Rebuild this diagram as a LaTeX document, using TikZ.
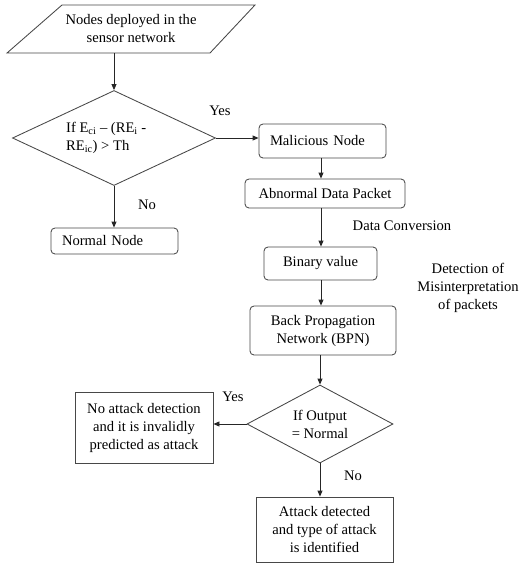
\documentclass[tikz,border=0pt]{standalone}
\usepackage{fontspec}
\setmainfont{Liberation Serif}
\usetikzlibrary{shapes.geometric,arrows.meta}
\begin{document}
\begin{tikzpicture}[x=1pt,y=-1pt, font=\fontsize{14.6}{18}\selectfont,
 box/.style={draw=black!72, line width=0.85pt, rounded corners=4pt, inner sep=0pt, align=center},
 lbox/.style={draw=black!72, line width=0.85pt, rounded corners=4pt, inner xsep=11pt, inner ysep=0pt, align=left, text width=105pt},
 sbox/.style={draw=black!72, line width=0.85pt, inner sep=0pt, align=center},
 dia/.style={diamond, draw=black!72, line width=0.85pt, inner sep=0pt},
 arr/.style={-{Triangle[length=6pt,width=5pt]}, line width=0.85pt, draw=black!85},
 lbl/.style={inner sep=0pt, align=center}]
\useasboundingbox (0,0) rectangle (519,565);
% start (parallelogram)
\node[lbl, minimum width=150pt, minimum height=48pt] (start) at (131,29) {Nodes deployed in the\\sensor network};
\draw[draw=black!72, line width=0.85pt] (62,5) -- (255,5) -- (210,53) -- (7,53) -- cycle;
% first decision
\node[dia, minimum width=203pt, minimum height=95pt] (d1) at (114,138) {};
\node[lbl, align=left, anchor=west] (d1t) at (66,138) {If E\textsubscript{ci} – (RE\textsubscript{i} -\\RE\textsubscript{ic}) > Th};
\node[lbox, minimum height=26pt] (normal) at (114.5,241) {Normal Node};
\node[lbox, minimum height=34pt] (mal) at (322.5,141) {Malicious Node};
\node[box, minimum width=160pt, minimum height=29pt] (abn) at (325,193.5) {Abnormal Data Packet};
\node[box, minimum width=113pt, minimum height=33pt] (bin) at (320.5,263.5) {Binary value};
\node[box, minimum width=146pt, minimum height=49pt] (bpn) at (323,330.5) {Back Propagation\\Network (BPN)};
\node[dia, minimum width=146pt, minimum height=78pt] (d2) at (320,424) {};
\node[lbl] (d2t) at (320,424) {If Output\\= Normal};
\node[sbox, minimum width=138pt, minimum height=71pt] (noatt) at (144,427.5) {No attack detection\\and it is invalidly\\predicted as attack};
\node[sbox, minimum width=137pt, minimum height=65pt] (att) at (324.5,529.5) {Attack detected\\and type of attack\\is identified};
% labels
\node[lbl] (yes1) at (220,111) {Yes};
\node[lbl] (no1) at (147,205) {No};
\node[lbl] (dc) at (402,226) {Data Conversion};
\node[lbl] (det) at (468,288) {Detection of\\Misinterpretation\\of packets};
\node[lbl] (yes2) at (233,397) {Yes};
\node[lbl] (no2) at (353,476) {No};
% connectors
\draw[arr] (d1.north |- start.south) -- (d1.north);
\draw[arr] (d1.east) -- (mal.west |- d1.east);
\draw[arr] (d1.south) -- (d1.south |- normal.north);
\draw[arr] (321,0 |- mal.south) -- (321,0 |- abn.north);
\draw[arr] (321,0 |- abn.south) -- (321,0 |- bin.north);
\draw[arr] (321,0 |- bin.south) -- (321,0 |- bpn.north);
\draw[arr] (d2.north |- bpn.south) -- (d2.north);
\draw[arr] (d2.west) -- (noatt.east |- d2.west);
\draw[arr] (d2.south) -- (d2.south |- att.north);
\end{tikzpicture}
\end{document}
